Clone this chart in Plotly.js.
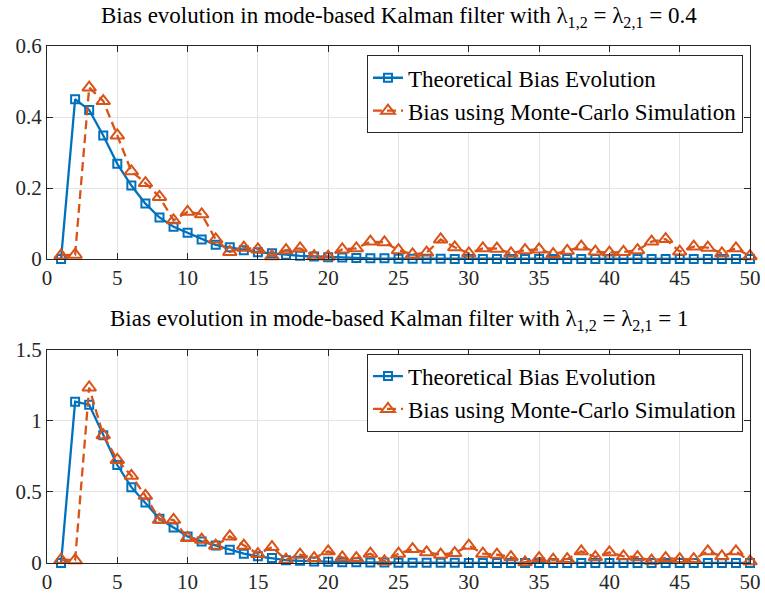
<!DOCTYPE html>
<html>
<head>
<meta charset="utf-8">
<script src="https://cdn.plot.ly/plotly-3.0.1.min.js"></script>
<style>html,body{margin:0;padding:0;background:#fff;}#plot{width:765px;height:598px;}</style>
</head>
<body>
<div id="plot"></div>
<script>
// ---- data ----
var steps = [];
for (var i = 1; i <= 50; i++) steps.push(i);

var theoryTop = [0, 0.45, 0.42, 0.348, 0.268, 0.207, 0.156, 0.117, 0.091, 0.074,
  0.055, 0.040, 0.033, 0.025, 0.019, 0.016, 0.012, 0.009, 0.007, 0.005,
  0.004, 0.003, 0.002, 0.002, 0.001, 0.001, 0.001, 0.001, 0, 0,
  0, 0, 0, 0, 0, 0, 0, 0, 0, 0,
  0, 0, 0, 0, 0, 0, 0, 0, 0, 0];
var mcTop = [0.01, 0.012, 0.483, 0.445, 0.348, 0.247, 0.214, 0.175, 0.109, 0.133,
  0.126, 0.055, 0.02, 0.032, 0.027, 0.008, 0.025, 0.030, 0.008, 0.007,
  0.027, 0.030, 0.049, 0.047, 0.025, 0.013, 0.018, 0.055, 0.033, 0.016,
  0.030, 0.029, 0.016, 0.025, 0.027, 0.014, 0.023, 0.035, 0.021, 0.018,
  0.020, 0.025, 0.049, 0.056, 0.021, 0.035, 0.032, 0.016, 0.030, 0.008];

var theoryBot = [0, 1.136, 1.115, 0.90, 0.69, 0.534, 0.426, 0.311, 0.25, 0.187,
  0.152, 0.124, 0.094, 0.066, 0.047, 0.035, 0.02, 0.015, 0.011, 0.008,
  0.006, 0.005, 0.004, 0.003, 0.002, 0.002, 0.001, 0.001, 0.001, 0,
  0, 0, 0, 0, 0, 0, 0, 0, 0, 0,
  0, 0, 0, 0, 0, 0, 0, 0, 0, 0];
var mcBot = [0.023, 0.02, 1.236, 0.90, 0.726, 0.614, 0.473, 0.304, 0.304, 0.176,
  0.164, 0.122, 0.187, 0.122, 0.063, 0.112, 0.023, 0.059, 0.035, 0.082,
  0.04, 0.035, 0.066, 0.012, 0.066, 0.098, 0.075, 0.059, 0.07, 0.122,
  0.066, 0.059, 0.042, 0.005, 0.035, 0.023, 0.028, 0.082, 0.042, 0.075,
  0.047, 0.042, 0.016, 0.035, 0.028, 0.028, 0.082, 0.047, 0.082, 0.012];

var seriesNames = ['Theoretical Bias Evolution', 'Bias using Monte-Carlo Simulation'];
var titleTop = 'Bias evolution in mode-based Kalman filter with \u03bb<sub>1,2</sub> = \u03bb<sub>2,1</sub> = 0.4';
var titleBot = 'Bias evolution in mode-based Kalman filter with \u03bb<sub>1,2</sub> = \u03bb<sub>2,1</sub> = 1';
var xTicks = [0, 5, 10, 15, 20, 25, 30, 35, 40, 45, 50];
var yTicksTop = [0, 0.2, 0.4, 0.6];
var yTicksBot = [0, 0.5, 1, 1.5];

// ---- styles ----
var BLUE = '#0072BD', ORANGE = '#D95319', AX = '#262626';
var FONT = 'Liberation Serif';

function theoryTrace(y, xa, ya, lg) {
  return {x: steps, y: y, xaxis: xa, yaxis: ya, legend: lg, name: seriesNames[0],
    type: 'scatter', mode: 'lines+markers', cliponaxis: false,
    line: {color: BLUE, width: 2.3},
    marker: {symbol: 'square-open', size: 8, color: BLUE, line: {width: 2, color: BLUE}}};
}
function mcTrace(y, xa, ya, lg) {
  return {x: steps, y: y, xaxis: xa, yaxis: ya, legend: lg, name: seriesNames[1],
    type: 'scatter', mode: 'lines+markers', cliponaxis: false,
    line: {color: ORANGE, width: 2.3, dash: '9px,5px'},
    marker: {symbol: 'triangle-up-open', size: 12, color: ORANGE, line: {width: 2, color: ORANGE}}};
}

var data = [
  theoryTrace(theoryTop, 'x', 'y', 'legend'),
  mcTrace(mcTop, 'x', 'y', 'legend'),
  theoryTrace(theoryBot, 'x2', 'y2', 'legend2'),
  mcTrace(mcBot, 'x2', 'y2', 'legend2')
];

function xAxis(anchor) {
  return {anchor: anchor, domain: [0, 1], range: [0, 50], tickmode: 'array', tickvals: xTicks,
    ticks: 'inside', ticklen: 6, tickcolor: AX, showline: true, mirror: 'ticks',
    linecolor: AX, linewidth: 1, showgrid: true, gridcolor: '#e3e3e3', zeroline: false,
    tickfont: {family: FONT, size: 21, color: AX}};
}
function yAxis(anchor, dom, rng, ticks) {
  return {anchor: anchor, domain: dom, range: rng, tickmode: 'array', tickvals: ticks,
    ticks: 'inside', ticklen: 6, tickcolor: AX, showline: true, mirror: 'ticks',
    linecolor: AX, linewidth: 1, showgrid: true, gridcolor: '#e3e3e3', zeroline: false,
    tickfont: {family: FONT, size: 21, color: AX}};
}

var legendStyle = function (y) {
  return {x: 0.99, xanchor: 'right', y: y, yanchor: 'top', bgcolor: '#ffffff',
    bordercolor: AX, borderwidth: 1, itemwidth: 30, tracegroupgap: 0,
    font: {family: FONT, size: 23, color: '#000'}};
};

var layout = {
  width: 765, height: 598,
  margin: {l: 47, r: 15, t: 46, b: 35},
  paper_bgcolor: '#fff', plot_bgcolor: '#fff',
  font: {family: FONT},
  showlegend: true,
  xaxis: xAxis('y'),
  yaxis: yAxis('x', [0.588, 1], [0, 0.6], yTicksTop),
  xaxis2: xAxis('y2'),
  yaxis2: yAxis('x2', [0, 0.412], [0, 1.5], yTicksBot),
  legend: legendStyle(0.982),
  legend2: legendStyle(0.405),
  annotations: [
    {text: titleTop, xref: 'paper', yref: 'paper', x: 0.5, y: 1.056, xanchor: 'center', yanchor: 'middle',
      showarrow: false, font: {family: FONT, size: 23, color: '#000'}},
    {text: titleBot, xref: 'paper', yref: 'paper', x: 0.5, y: 0.47, xanchor: 'center', yanchor: 'middle',
      showarrow: false, font: {family: FONT, size: 23, color: '#000'}}
  ]
};

Plotly.newPlot('plot', data, layout, {staticPlot: true, displayModeBar: false});
</script>
</body>
</html>
